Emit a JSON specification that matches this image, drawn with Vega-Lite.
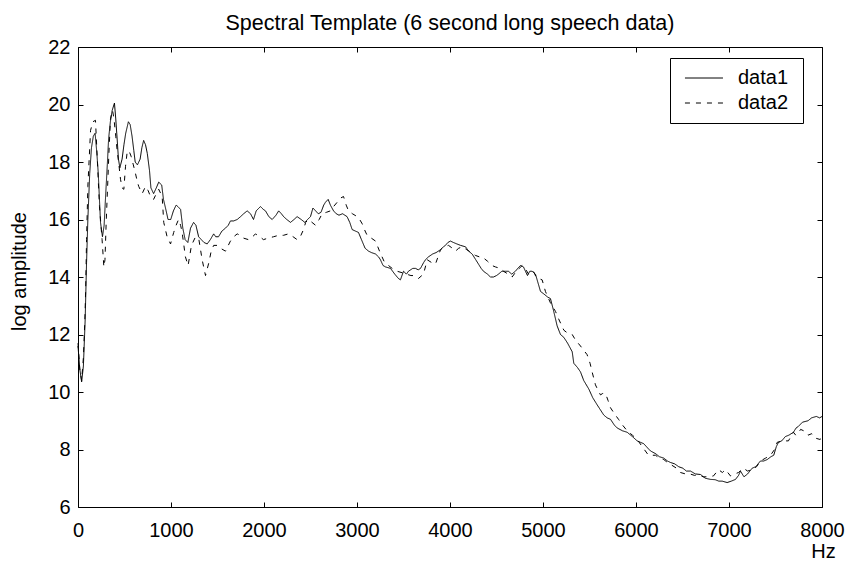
{
  "$schema": "https://vega.github.io/schema/vega-lite/v6.json",
  "width": 744,
  "height": 460,
  "autosize": "none",
  "padding": {"left": 78, "top": 47, "right": 26, "bottom": 55},
  "background": "white",
  "title": {"text": "Spectral Template (6 second long speech data)", "fontSize": 21.5, "font": "Liberation Sans", "fontWeight": "normal", "color": "black", "offset": 3, "anchor": "middle"},
  "config": {
    "view": {"stroke": null},
    "axis": {"grid": false, "domainColor": "black", "tickColor": "black", "labelColor": "black", "titleColor": "black", "labelFont": "Liberation Sans", "titleFont": "Liberation Sans", "labelFontSize": 20, "titleFontSize": 20, "titleFontWeight": "normal", "tickSize": -5, "domainWidth": 1, "tickWidth": 1, "labelFlush": false, "labelOverlap": false, "labelBound": false}
  },
  "datasets": {
    "d1": [
      {"Hz":0,"amp":11.6},{"Hz":19,"amp":10.8},{"Hz":39,"amp":10.35},{"Hz":58,"amp":10.9},{"Hz":77,"amp":12.5},{"Hz":92,"amp":14.5},{"Hz":106,"amp":16.0},{"Hz":126,"amp":17.6},{"Hz":145,"amp":18.5},{"Hz":165,"amp":18.9},{"Hz":184,"amp":19.0},{"Hz":203,"amp":18.3},{"Hz":218,"amp":17.6},{"Hz":242,"amp":15.9},{"Hz":263,"amp":15.4},{"Hz":281,"amp":15.8},{"Hz":295,"amp":16.7},{"Hz":315,"amp":17.9},{"Hz":329,"amp":18.8},{"Hz":348,"amp":19.4},{"Hz":368,"amp":19.8},{"Hz":392,"amp":20.05},{"Hz":406,"amp":19.5},{"Hz":421,"amp":18.8},{"Hz":435,"amp":18.1},{"Hz":450,"amp":17.8},{"Hz":474,"amp":18.1},{"Hz":494,"amp":18.6},{"Hz":513,"amp":19.0},{"Hz":542,"amp":19.4},{"Hz":561,"amp":19.3},{"Hz":581,"amp":18.9},{"Hz":600,"amp":18.4},{"Hz":615,"amp":18.0},{"Hz":639,"amp":17.9},{"Hz":668,"amp":18.1},{"Hz":687,"amp":18.5},{"Hz":706,"amp":18.75},{"Hz":726,"amp":18.6},{"Hz":745,"amp":18.3},{"Hz":769,"amp":17.7},{"Hz":784,"amp":17.1},{"Hz":813,"amp":16.9},{"Hz":842,"amp":17.1},{"Hz":868,"amp":17.3},{"Hz":900,"amp":17.2},{"Hz":919,"amp":16.7},{"Hz":948,"amp":16.3},{"Hz":968,"amp":16.0},{"Hz":997,"amp":16.0},{"Hz":1026,"amp":16.3},{"Hz":1055,"amp":16.5},{"Hz":1074,"amp":16.45},{"Hz":1103,"amp":16.35},{"Hz":1127,"amp":15.7},{"Hz":1152,"amp":15.3},{"Hz":1181,"amp":15.2},{"Hz":1210,"amp":15.7},{"Hz":1243,"amp":15.9},{"Hz":1268,"amp":15.8},{"Hz":1297,"amp":15.4},{"Hz":1326,"amp":15.3},{"Hz":1355,"amp":15.2},{"Hz":1389,"amp":15.15},{"Hz":1423,"amp":15.3},{"Hz":1459,"amp":15.5},{"Hz":1481,"amp":15.4},{"Hz":1511,"amp":15.4},{"Hz":1548,"amp":15.6},{"Hz":1586,"amp":15.7},{"Hz":1616,"amp":15.8},{"Hz":1639,"amp":15.95},{"Hz":1674,"amp":15.95},{"Hz":1712,"amp":16.0},{"Hz":1748,"amp":16.1},{"Hz":1781,"amp":16.2},{"Hz":1819,"amp":16.3},{"Hz":1855,"amp":16.2},{"Hz":1887,"amp":16.0},{"Hz":1916,"amp":16.3},{"Hz":1962,"amp":16.45},{"Hz":1993,"amp":16.35},{"Hz":2016,"amp":16.3},{"Hz":2052,"amp":16.1},{"Hz":2088,"amp":16.0},{"Hz":2129,"amp":16.15},{"Hz":2158,"amp":16.3},{"Hz":2187,"amp":16.2},{"Hz":2211,"amp":16.1},{"Hz":2245,"amp":16.0},{"Hz":2285,"amp":15.9},{"Hz":2323,"amp":16.0},{"Hz":2356,"amp":16.1},{"Hz":2400,"amp":16.0},{"Hz":2439,"amp":15.9},{"Hz":2468,"amp":16.0},{"Hz":2500,"amp":16.1},{"Hz":2526,"amp":16.4},{"Hz":2555,"amp":16.3},{"Hz":2584,"amp":16.2},{"Hz":2613,"amp":16.25},{"Hz":2642,"amp":16.5},{"Hz":2661,"amp":16.6},{"Hz":2690,"amp":16.7},{"Hz":2714,"amp":16.5},{"Hz":2748,"amp":16.3},{"Hz":2777,"amp":16.2},{"Hz":2806,"amp":16.15},{"Hz":2845,"amp":16.2},{"Hz":2893,"amp":16.1},{"Hz":2922,"amp":15.9},{"Hz":2948,"amp":15.65},{"Hz":2981,"amp":15.6},{"Hz":3016,"amp":15.55},{"Hz":3048,"amp":15.3},{"Hz":3087,"amp":15.0},{"Hz":3124,"amp":14.9},{"Hz":3155,"amp":14.85},{"Hz":3199,"amp":14.8},{"Hz":3232,"amp":14.7},{"Hz":3252,"amp":14.6},{"Hz":3280,"amp":14.4},{"Hz":3307,"amp":14.35},{"Hz":3360,"amp":14.3},{"Hz":3406,"amp":14.1},{"Hz":3445,"amp":13.95},{"Hz":3467,"amp":13.9},{"Hz":3500,"amp":14.2},{"Hz":3532,"amp":14.1},{"Hz":3553,"amp":14.2},{"Hz":3600,"amp":14.3},{"Hz":3629,"amp":14.3},{"Hz":3658,"amp":14.25},{"Hz":3683,"amp":14.3},{"Hz":3716,"amp":14.5},{"Hz":3736,"amp":14.6},{"Hz":3768,"amp":14.7},{"Hz":3813,"amp":14.8},{"Hz":3851,"amp":14.85},{"Hz":3898,"amp":14.95},{"Hz":3929,"amp":15.05},{"Hz":3951,"amp":15.1},{"Hz":3977,"amp":15.2},{"Hz":4005,"amp":15.25},{"Hz":4037,"amp":15.2},{"Hz":4074,"amp":15.15},{"Hz":4113,"amp":15.1},{"Hz":4167,"amp":15.05},{"Hz":4200,"amp":14.9},{"Hz":4238,"amp":14.8},{"Hz":4277,"amp":14.6},{"Hz":4306,"amp":14.45},{"Hz":4335,"amp":14.3},{"Hz":4360,"amp":14.2},{"Hz":4403,"amp":14.1},{"Hz":4435,"amp":14.0},{"Hz":4468,"amp":14.0},{"Hz":4500,"amp":14.05},{"Hz":4521,"amp":14.1},{"Hz":4558,"amp":14.2},{"Hz":4597,"amp":14.2},{"Hz":4628,"amp":14.2},{"Hz":4664,"amp":14.1},{"Hz":4703,"amp":14.2},{"Hz":4742,"amp":14.35},{"Hz":4758,"amp":14.4},{"Hz":4790,"amp":14.35},{"Hz":4833,"amp":14.05},{"Hz":4858,"amp":14.2},{"Hz":4883,"amp":14.2},{"Hz":4919,"amp":14.1},{"Hz":4937,"amp":13.9},{"Hz":4973,"amp":13.5},{"Hz":5013,"amp":13.4},{"Hz":5051,"amp":13.3},{"Hz":5080,"amp":13.25},{"Hz":5112,"amp":12.85},{"Hz":5152,"amp":12.3},{"Hz":5188,"amp":12.0},{"Hz":5224,"amp":11.9},{"Hz":5264,"amp":11.7},{"Hz":5314,"amp":11.4},{"Hz":5331,"amp":11.0},{"Hz":5371,"amp":10.85},{"Hz":5403,"amp":10.7},{"Hz":5438,"amp":10.4},{"Hz":5493,"amp":10.1},{"Hz":5535,"amp":9.8},{"Hz":5583,"amp":9.55},{"Hz":5613,"amp":9.4},{"Hz":5653,"amp":9.2},{"Hz":5690,"amp":9.1},{"Hz":5726,"amp":9.05},{"Hz":5767,"amp":8.85},{"Hz":5797,"amp":8.75},{"Hz":5855,"amp":8.65},{"Hz":5905,"amp":8.6},{"Hz":5961,"amp":8.45},{"Hz":6012,"amp":8.3},{"Hz":6048,"amp":8.25},{"Hz":6084,"amp":8.2},{"Hz":6126,"amp":8.05},{"Hz":6156,"amp":7.95},{"Hz":6213,"amp":7.85},{"Hz":6251,"amp":7.75},{"Hz":6299,"amp":7.7},{"Hz":6338,"amp":7.6},{"Hz":6370,"amp":7.55},{"Hz":6416,"amp":7.5},{"Hz":6460,"amp":7.4},{"Hz":6503,"amp":7.35},{"Hz":6542,"amp":7.25},{"Hz":6586,"amp":7.25},{"Hz":6638,"amp":7.15},{"Hz":6694,"amp":7.13},{"Hz":6745,"amp":7.0},{"Hz":6801,"amp":6.96},{"Hz":6851,"amp":6.95},{"Hz":6890,"amp":6.9},{"Hz":6927,"amp":6.9},{"Hz":6980,"amp":6.85},{"Hz":7025,"amp":6.9},{"Hz":7070,"amp":6.96},{"Hz":7103,"amp":7.1},{"Hz":7123,"amp":7.25},{"Hz":7161,"amp":7.05},{"Hz":7200,"amp":7.15},{"Hz":7249,"amp":7.35},{"Hz":7287,"amp":7.4},{"Hz":7338,"amp":7.6},{"Hz":7374,"amp":7.6},{"Hz":7411,"amp":7.65},{"Hz":7451,"amp":7.75},{"Hz":7481,"amp":7.8},{"Hz":7509,"amp":8.1},{"Hz":7532,"amp":8.25},{"Hz":7567,"amp":8.3},{"Hz":7606,"amp":8.45},{"Hz":7645,"amp":8.5},{"Hz":7693,"amp":8.6},{"Hz":7722,"amp":8.75},{"Hz":7745,"amp":8.8},{"Hz":7790,"amp":8.95},{"Hz":7850,"amp":9.0},{"Hz":7888,"amp":9.1},{"Hz":7939,"amp":9.15},{"Hz":7975,"amp":9.1},{"Hz":8000,"amp":9.15}
    ],
    "d2": [
      {"Hz":0,"amp":11.7},{"Hz":19,"amp":10.8},{"Hz":39,"amp":10.4},{"Hz":58,"amp":11.2},{"Hz":73,"amp":12.45},{"Hz":82,"amp":13.5},{"Hz":92,"amp":15.3},{"Hz":106,"amp":17.15},{"Hz":135,"amp":19.1},{"Hz":160,"amp":19.4},{"Hz":188,"amp":19.45},{"Hz":206,"amp":18.2},{"Hz":231,"amp":16.45},{"Hz":259,"amp":15.3},{"Hz":278,"amp":14.35},{"Hz":290,"amp":14.6},{"Hz":303,"amp":15.9},{"Hz":319,"amp":17.2},{"Hz":331,"amp":18.2},{"Hz":349,"amp":19.5},{"Hz":371,"amp":19.8},{"Hz":387,"amp":19.5},{"Hz":406,"amp":18.9},{"Hz":421,"amp":18.4},{"Hz":440,"amp":17.9},{"Hz":457,"amp":17.4},{"Hz":474,"amp":17.1},{"Hz":493,"amp":17.05},{"Hz":511,"amp":17.85},{"Hz":527,"amp":18.3},{"Hz":547,"amp":18.4},{"Hz":571,"amp":18.2},{"Hz":595,"amp":17.9},{"Hz":618,"amp":17.6},{"Hz":639,"amp":17.3},{"Hz":653,"amp":17.15},{"Hz":690,"amp":16.9},{"Hz":726,"amp":17.15},{"Hz":755,"amp":17.0},{"Hz":779,"amp":16.8},{"Hz":813,"amp":16.7},{"Hz":842,"amp":16.9},{"Hz":868,"amp":17.05},{"Hz":905,"amp":16.8},{"Hz":922,"amp":15.9},{"Hz":958,"amp":15.4},{"Hz":995,"amp":15.15},{"Hz":1029,"amp":15.55},{"Hz":1055,"amp":15.8},{"Hz":1081,"amp":16.0},{"Hz":1103,"amp":15.8},{"Hz":1120,"amp":15.55},{"Hz":1155,"amp":14.7},{"Hz":1184,"amp":14.4},{"Hz":1220,"amp":15.1},{"Hz":1264,"amp":15.4},{"Hz":1300,"amp":15.3},{"Hz":1335,"amp":14.6},{"Hz":1371,"amp":14.05},{"Hz":1407,"amp":14.5},{"Hz":1432,"amp":14.9},{"Hz":1459,"amp":15.1},{"Hz":1495,"amp":15.1},{"Hz":1532,"amp":15.0},{"Hz":1586,"amp":14.9},{"Hz":1616,"amp":15.1},{"Hz":1639,"amp":15.25},{"Hz":1674,"amp":15.4},{"Hz":1712,"amp":15.5},{"Hz":1742,"amp":15.45},{"Hz":1782,"amp":15.35},{"Hz":1833,"amp":15.3},{"Hz":1877,"amp":15.4},{"Hz":1908,"amp":15.5},{"Hz":1955,"amp":15.4},{"Hz":1994,"amp":15.3},{"Hz":2042,"amp":15.35},{"Hz":2102,"amp":15.4},{"Hz":2158,"amp":15.45},{"Hz":2209,"amp":15.45},{"Hz":2263,"amp":15.5},{"Hz":2313,"amp":15.4},{"Hz":2356,"amp":15.3},{"Hz":2390,"amp":15.4},{"Hz":2425,"amp":15.65},{"Hz":2448,"amp":15.9},{"Hz":2478,"amp":16.0},{"Hz":2516,"amp":15.9},{"Hz":2554,"amp":15.8},{"Hz":2593,"amp":16.0},{"Hz":2625,"amp":16.2},{"Hz":2671,"amp":16.25},{"Hz":2714,"amp":16.3},{"Hz":2748,"amp":16.45},{"Hz":2787,"amp":16.6},{"Hz":2826,"amp":16.75},{"Hz":2855,"amp":16.8},{"Hz":2884,"amp":16.5},{"Hz":2909,"amp":16.3},{"Hz":2951,"amp":16.2},{"Hz":3002,"amp":16.1},{"Hz":3029,"amp":16.0},{"Hz":3056,"amp":15.85},{"Hz":3087,"amp":15.6},{"Hz":3109,"amp":15.45},{"Hz":3155,"amp":15.35},{"Hz":3199,"amp":15.25},{"Hz":3242,"amp":14.9},{"Hz":3290,"amp":14.55},{"Hz":3339,"amp":14.4},{"Hz":3378,"amp":14.3},{"Hz":3432,"amp":14.2},{"Hz":3484,"amp":14.15},{"Hz":3532,"amp":14.1},{"Hz":3580,"amp":14.05},{"Hz":3629,"amp":14.05},{"Hz":3661,"amp":13.95},{"Hz":3715,"amp":14.1},{"Hz":3755,"amp":14.6},{"Hz":3803,"amp":14.5},{"Hz":3844,"amp":14.45},{"Hz":3871,"amp":14.7},{"Hz":3898,"amp":14.95},{"Hz":3938,"amp":15.05},{"Hz":3984,"amp":15.1},{"Hz":4026,"amp":15.0},{"Hz":4059,"amp":14.9},{"Hz":4093,"amp":15.0},{"Hz":4131,"amp":15.05},{"Hz":4180,"amp":14.95},{"Hz":4229,"amp":14.85},{"Hz":4274,"amp":14.75},{"Hz":4316,"amp":14.7},{"Hz":4346,"amp":14.7},{"Hz":4403,"amp":14.55},{"Hz":4451,"amp":14.4},{"Hz":4489,"amp":14.35},{"Hz":4539,"amp":14.3},{"Hz":4575,"amp":14.2},{"Hz":4626,"amp":14.1},{"Hz":4668,"amp":14.0},{"Hz":4713,"amp":14.2},{"Hz":4776,"amp":14.4},{"Hz":4809,"amp":14.3},{"Hz":4844,"amp":14.1},{"Hz":4877,"amp":14.2},{"Hz":4897,"amp":14.2},{"Hz":4926,"amp":14.0},{"Hz":4952,"amp":13.95},{"Hz":4991,"amp":13.9},{"Hz":5026,"amp":13.5},{"Hz":5080,"amp":13.1},{"Hz":5135,"amp":12.8},{"Hz":5167,"amp":12.55},{"Hz":5224,"amp":12.15},{"Hz":5264,"amp":12.05},{"Hz":5314,"amp":12.0},{"Hz":5351,"amp":11.8},{"Hz":5403,"amp":11.6},{"Hz":5438,"amp":11.45},{"Hz":5474,"amp":11.3},{"Hz":5506,"amp":11.0},{"Hz":5528,"amp":10.7},{"Hz":5564,"amp":10.25},{"Hz":5593,"amp":10.05},{"Hz":5618,"amp":9.9},{"Hz":5642,"amp":9.95},{"Hz":5672,"amp":9.95},{"Hz":5700,"amp":9.7},{"Hz":5726,"amp":9.45},{"Hz":5767,"amp":9.25},{"Hz":5812,"amp":9.05},{"Hz":5855,"amp":8.85},{"Hz":5905,"amp":8.65},{"Hz":5961,"amp":8.5},{"Hz":6012,"amp":8.35},{"Hz":6067,"amp":8.1},{"Hz":6134,"amp":7.8},{"Hz":6174,"amp":7.8},{"Hz":6210,"amp":7.8},{"Hz":6251,"amp":7.7},{"Hz":6299,"amp":7.65},{"Hz":6338,"amp":7.55},{"Hz":6387,"amp":7.45},{"Hz":6435,"amp":7.35},{"Hz":6478,"amp":7.2},{"Hz":6532,"amp":7.15},{"Hz":6580,"amp":7.15},{"Hz":6629,"amp":7.1},{"Hz":6677,"amp":7.1},{"Hz":6726,"amp":7.05},{"Hz":6774,"amp":7.05},{"Hz":6833,"amp":7.08},{"Hz":6887,"amp":7.3},{"Hz":6929,"amp":7.2},{"Hz":6962,"amp":7.3},{"Hz":7016,"amp":7.08},{"Hz":7064,"amp":7.15},{"Hz":7102,"amp":7.2},{"Hz":7155,"amp":7.35},{"Hz":7200,"amp":7.25},{"Hz":7249,"amp":7.3},{"Hz":7296,"amp":7.4},{"Hz":7338,"amp":7.6},{"Hz":7393,"amp":7.7},{"Hz":7446,"amp":7.8},{"Hz":7490,"amp":8.0},{"Hz":7518,"amp":8.25},{"Hz":7577,"amp":8.3},{"Hz":7639,"amp":8.3},{"Hz":7674,"amp":8.5},{"Hz":7693,"amp":8.6},{"Hz":7717,"amp":8.5},{"Hz":7742,"amp":8.55},{"Hz":7770,"amp":8.7},{"Hz":7817,"amp":8.63},{"Hz":7850,"amp":8.5},{"Hz":7890,"amp":8.55},{"Hz":7925,"amp":8.4},{"Hz":7978,"amp":8.35},{"Hz":8000,"amp":8.4}
    ]
  },
  "layer": [
    {
      "data": {"name": "d1"},
      "transform": [{"calculate": "'data1'", "as": "series"}],
      "mark": {"type": "line", "color": "black", "strokeWidth": 1},
      "encoding": {
        "x": {"field": "Hz", "type": "quantitative", "scale": {"domain": [0, 8000], "nice": false, "zero": false}, "axis": {"orient": "bottom", "values": [0,1000,2000,3000,4000,5000,6000,7000,8000], "format": "d", "labelPadding": 18, "title": "Hz", "titleX": 745, "titleY": 44, "titleAlign": "center", "titleBaseline": "middle", "titleAnchor": null}},
        "y": {"field": "amp", "type": "quantitative", "scale": {"domain": [6, 22], "nice": false, "zero": false}, "axis": {"orient": "left", "values": [6,8,10,12,14,16,18,20,22], "format": "d", "labelPadding": 13, "title": "log amplitude", "titleX": -59, "titleY": 224, "titleAngle": -90, "titleAlign": "center", "titleBaseline": "middle", "titleAnchor": null}},
        "strokeDash": {"field": "series", "type": "nominal", "scale": {"domain": ["data1", "data2"], "range": [[1, 0], [5, 6]]}, "legend": {"title": " ", "titleOrient": "right", "titlePadding": 5, "titleFontSize": 20, "orient": "none", "legendX": 592, "legendY": 11, "symbolType": "M-0.53,0H3.47", "symbolSize": 361, "symbolStrokeColor": "black", "symbolStrokeWidth": 1, "labelFontSize": 20, "labelFont": "Liberation Sans", "labelColor": "black", "labelOffset": 38, "rowPadding": 5, "padding": 10, "strokeColor": "black", "fillColor": "white", "cornerRadius": 0}}
      }
    },
    {
      "data": {"name": "d2"},
      "transform": [{"calculate": "'data2'", "as": "series"}],
      "mark": {"type": "line", "color": "black", "strokeWidth": 1},
      "encoding": {
        "x": {"field": "Hz", "type": "quantitative", "scale": {"domain": [0, 8000], "nice": false, "zero": false}, "axis": null},
        "y": {"field": "amp", "type": "quantitative", "scale": {"domain": [6, 22], "nice": false, "zero": false}, "axis": null},
        "strokeDash": {"field": "series", "type": "nominal"}
      }
    },
    {
      "data": {"name": "d1"},
      "mark": {"type": "line", "opacity": 0},
      "encoding": {
        "x": {"field": "Hz", "type": "quantitative", "scale": {"domain": [0, 8000], "nice": false, "zero": false}, "axis": {"orient": "top", "values": [0,1000,2000,3000,4000,5000,6000,7000,8000], "labels": false, "title": null}},
        "y": {"field": "amp", "type": "quantitative", "scale": {"domain": [6, 22], "nice": false, "zero": false}, "axis": {"orient": "right", "values": [6,8,10,12,14,16,18,20,22], "labels": false, "title": null}}
      }
    }
  ],
  "resolve": {"axis": {"x": "independent", "y": "independent"}}
}
